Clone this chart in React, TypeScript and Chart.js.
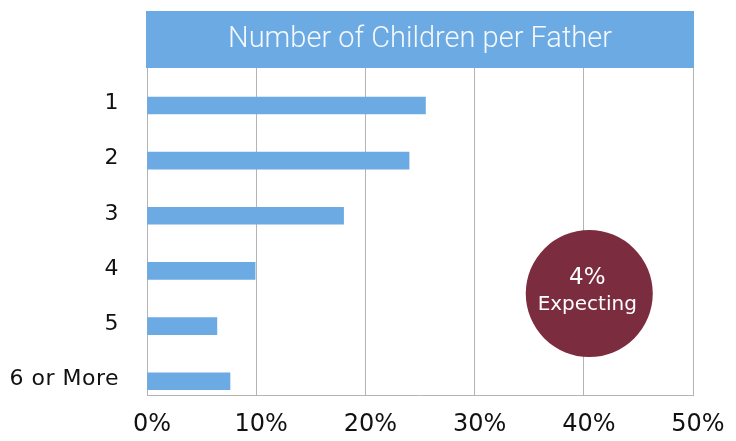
import React, { useEffect, useRef } from "react";
import { Chart, registerables } from "chart.js";

Chart.register(...registerables);

const TITLE = "Number of Children per Father";
const CATEGORIES = ["1", "2", "3", "4", "5", "6 or More"];
const SHARES = [25.5, 24.0, 18.0, 9.9, 6.4, 7.6];
const X_TICKS = [0, 10, 20, 30, 40, 50];
const NOTE_VALUE = "4%";
const NOTE_LABEL = "Expecting";
const NOTE_X = 40.5;
const NOTE_Y = 3.41;

const BLUE = "#6CAAE3";
const MAROON = "#7B2D3F";
const GRID = "#b4b4b4";

const bandPlugin = {
  id: "titleBand",
  beforeDraw(chart: any) {
    const { ctx, chartArea, titleBlock } = chart;
    if (!titleBlock) return;
    ctx.save();
    ctx.fillStyle = BLUE;
    ctx.fillRect(
      chartArea.left - 1,
      titleBlock.top,
      chartArea.right - chartArea.left + 2,
      titleBlock.bottom - titleBlock.top
    );
    ctx.restore();
    const s = chart.scales.y;
    if (s && !s.__patched) {
      const orig = s.drawLabels.bind(s);
      s.drawLabels = (ca: any) => {
        const c = chart.ctx;
        c.save();
        (c as any).letterSpacing = "0.5px";
        orig(ca);
        c.restore();
      };
      s.__patched = true;
    }
  },
};

const notePlugin = {
  id: "note",
  afterDatasetsDraw(chart: any) {
    const { ctx, scales } = chart;
    const cx = scales.x.getPixelForValue(NOTE_X);
    const cy = scales.y.getPixelForValue(NOTE_Y);
    ctx.save();
    ctx.fillStyle = MAROON;
    ctx.beginPath();
    ctx.arc(cx, cy, 63.5, 0, Math.PI * 2);
    ctx.fill();
    ctx.fillStyle = "#ffffff";
    ctx.textAlign = "center";
    ctx.textBaseline = "alphabetic";
    ctx.font = "23px 'DejaVu Sans'";
    ctx.fillText(NOTE_VALUE, cx - 2, cy - 10);
    ctx.font = "20px 'DejaVu Sans'";
    ctx.fillText(NOTE_LABEL, cx - 2, cy + 16.7);
    ctx.restore();
  },
};

export default function App() {
  const ref = useRef<HTMLCanvasElement | null>(null);
  useEffect(() => {
    if (!ref.current) return;
    const chart = new Chart(ref.current, {
      type: "bar",
      data: {
        datasets: [
          {
            data: SHARES.map((v, i) => ({ x: v, y: i })),
            backgroundColor: BLUE,
            borderWidth: 0,
            barThickness: 17,
          },
        ],
      },
      options: {
        indexAxis: "y",
        responsive: false,
        animation: false,
        devicePixelRatio: 1,
        layout: { padding: { top: 11, left: 8, right: 43, bottom: 4 } },
        plugins: {
          legend: { display: false },
          tooltip: { enabled: false },
          title: {
            display: true,
            text: TITLE,
            fullSize: false,
            color: "#F5F9FD",
            font: { family: "Roboto", size: 29, weight: "300", lineHeight: 1.2 },
            padding: { top: 11.5, bottom: 10.7 },
          },
        },
        scales: {
          x: {
            type: "linear",
            min: 0,
            max: 50,
            afterBuildTicks: (s: any) => {
              s.ticks = X_TICKS.map((v) => ({ value: v }));
            },
            afterFit: (s: any) => {
              s.height = 42;
            },
            ticks: {
              callback: (v: any) => v + "%",
              color: "#111111",
              font: { family: "DejaVu Sans", size: 24 },
              padding: 15,
              labelOffset: 5,
              maxRotation: 0,
            },
            grid: { color: GRID, lineWidth: 1, drawTicks: false },
            border: { display: true, color: GRID, width: 1 },
          },
          y: {
            type: "linear",
            reverse: true,
            offset: false,
            min: -0.68,
            max: 5.25,
            afterBuildTicks: (s: any) => {
              s.ticks = CATEGORIES.map((_, i) => ({ value: i }));
            },
            afterFit: (s: any) => {
              s.width = 139;
            },
            ticks: {
              callback: (v: any) => CATEGORIES[v] ?? "",
              color: "#111111",
              font: { family: "DejaVu Sans", size: 22 },
              padding: 28,
              labelOffset: -2,
            },
            grid: { display: false, drawTicks: false, offset: false },
            border: { display: false },
          },
        },
      },
      plugins: [bandPlugin, notePlugin],
    } as any);
    return () => chart.destroy();
  }, []);
  return (
    <div style={{ position: "fixed", left: 0, top: 0, width: 736, height: 441, background: "#fff" }}>
      <canvas ref={ref} width={736} height={441} style={{ width: 736, height: 441, display: "block" }} />
    </div>
  );
}
